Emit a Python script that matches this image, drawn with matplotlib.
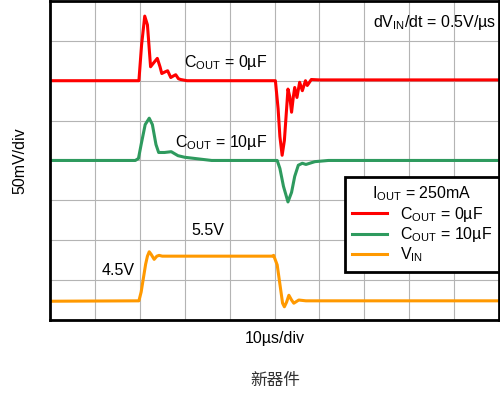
import matplotlib
matplotlib.use('Agg')
import matplotlib.pyplot as plt

plt.rcParams['font.family'] = ['Liberation Sans', 'DejaVu Sans']
plt.rcParams['mathtext.fontset'] = 'custom'
plt.rcParams['mathtext.rm'] = 'Liberation Sans'

# traces in scope divisions (x: 10 div, y: 8 div)
red_t = [0.0, 1.98, 2.04, 2.11, 2.17, 2.24, 2.31, 2.39, 2.45, 2.49, 2.56, 2.62, 2.69, 2.75,
         2.8, 2.86, 2.91, 3.05, 3.2, 5.02, 5.08, 5.12, 5.17, 5.22, 5.3, 5.34, 5.38, 5.42, 5.45,
         5.5, 5.56, 5.62, 5.69, 5.73, 5.82, 6.0, 10.0]
red_v = [6.0, 6.0, 6.9, 7.62, 7.4, 6.35, 6.45, 6.56, 6.35, 6.18, 6.22, 6.25, 6.08, 6.12,
         6.15, 6.05, 6.03, 6.0, 6.0, 6.0, 5.3, 4.6, 4.13, 4.5, 5.79, 5.6, 5.21, 5.6, 5.83,
         5.58, 5.96, 5.75, 6.0, 5.88, 6.03, 6.02, 6.02]

green_t = [0.0, 1.9, 1.97, 2.03, 2.12, 2.21, 2.28, 2.36, 2.42, 2.55, 2.7, 2.85, 3.0, 3.3,
           3.6, 5.06, 5.12, 5.2, 5.3, 5.38, 5.45, 5.53, 5.62, 5.7, 5.9, 6.2, 10.0]
green_v = [4.0, 4.0, 4.05, 4.4, 4.9, 5.06, 4.9, 4.4, 4.2, 4.2, 4.22, 4.12, 4.08, 4.04,
           4.0, 4.0, 3.8, 3.35, 2.96, 3.2, 3.6, 3.88, 3.93, 3.9, 3.97, 4.0, 4.0]

vin_t = [0.0, 1.98, 2.03, 2.08, 2.13, 2.17, 2.21, 2.25, 2.32, 2.38, 2.43, 2.5, 4.95, 4.98,
         5.06, 5.12, 5.18, 5.22, 5.27, 5.32, 5.38, 5.43, 5.54, 5.7, 10.0]
vin_v = [0.47, 0.48, 0.7, 1.05, 1.4, 1.6, 1.71, 1.65, 1.52, 1.6, 1.62, 1.6, 1.6, 1.62,
         1.38, 0.9, 0.42, 0.33, 0.45, 0.62, 0.5, 0.42, 0.5, 0.48, 0.48]

RED = '#ff0000'
GREEN = '#2e9a5e'
ORANGE = '#ff9900'

fig = plt.figure(figsize=(5.0, 3.96), dpi=100)
ax = fig.add_axes([0.1, 0.192, 0.898, 0.8056])

ax.plot(red_t, red_v, color=RED, lw=2.2, label=r'C$_{\mathregular{OUT}}$ = 0µF')
ax.plot(green_t, green_v, color=GREEN, lw=2.2, label=r'C$_{\mathregular{OUT}}$ = 10µF')
ax.plot(vin_t, vin_v, color=ORANGE, lw=2.2, label=r'V$_{\mathregular{IN}}$')

ax.set_xlim(0, 10)
ax.set_ylim(0, 8)
ax.set_xticks(range(11))
ax.set_yticks(range(9))
ax.tick_params(length=0, labelbottom=False, labelleft=False)
ax.grid(True, color='#b4b4b4', lw=0.8)
ax.set_axisbelow(True)
for s in ax.spines.values():
    s.set_linewidth(2.0)
    s.set_color('black')

ax.set_xlabel('10µs/div', fontsize=11.5, labelpad=8)
ax.set_ylabel('50mV/div', fontsize=11.5, labelpad=16)

fs = 11.5
ax.text(2.99, 6.45, r'C$_{\mathregular{OUT}}$ = 0µF', fontsize=fs, va='center')
ax.text(2.78, 4.45, r'C$_{\mathregular{OUT}}$ = 10µF', fontsize=fs, va='center')
ax.text(9.95, 7.45, r'dV$_{\mathregular{IN}}$/dt = 0.5V/µs', fontsize=fs, va='center', ha='right')
ax.text(3.15, 2.25, '5.5V', fontsize=fs, va='center')
ax.text(1.15, 1.25, '4.5V', fontsize=fs, va='center')

leg = ax.legend(title=r'I$_{\mathregular{OUT}}$ = 250mA', loc='upper right',
                bbox_to_anchor=(1.0, 0.448), borderaxespad=0, fontsize=fs,
                title_fontsize=fs, fancybox=False, framealpha=1, edgecolor='black',
                handlelength=2.2, handletextpad=0.8, labelspacing=0.1, borderpad=0.45)
leg.get_frame().set_linewidth(2.0)

fig.text(0.55, 0.04, '新器件', fontsize=12, color='#333333', ha='center', va='center',
         family=['Noto Sans CJK SC', 'DejaVu Sans'])

fig.savefig('out.png', dpi=100)
